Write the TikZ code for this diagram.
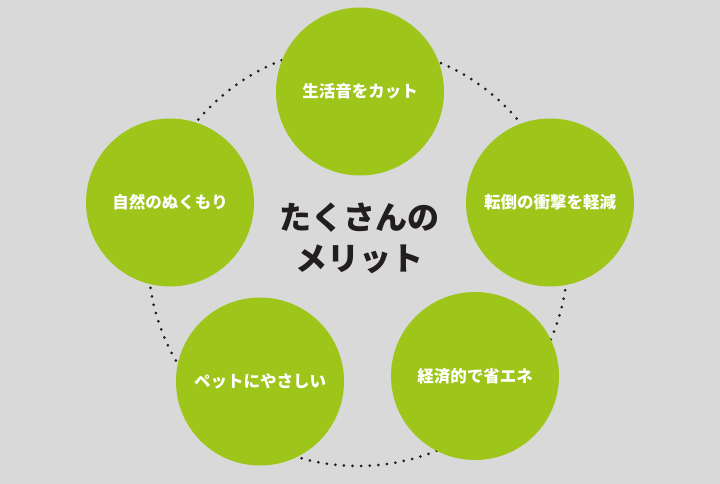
\documentclass[tikz,border=0pt]{standalone}
\usepackage{fontspec}
\newfontfamily\cjk{Noto Sans CJK JP}
\definecolor{BackClr}{RGB}{217,217,217}
\definecolor{GreenClr}{RGB}{158,197,26}
\definecolor{TextClr}{RGB}{35,30,30}

\begin{document}
\begin{tikzpicture}[x=1pt,y=-1pt,
  merit/.style={circle,fill=GreenClr,minimum size=168pt,inner sep=0pt,
    text=white,font=\cjk\bfseries\fontsize{16.5}{19}\selectfont},
  ring/.style={draw=TextClr,line width=3pt,line cap=round,
    dash pattern=on 0pt off 8.6pt}]
\fill[BackClr] (0,0) rectangle (720,484);
\useasboundingbox (0,0) rectangle (720,484);

\coordinate (O) at (358,256);
\draw[ring] (O) circle[radius=210];

\node[merit] (M1) at (360,91.5) {生活音をカット};
\node[merit] (M2) at (550,202.5) {転倒の衝撃を軽減};
\node[merit] (M3) at (475,376) {経済的で省エネ};
\node[merit] (M4) at (260,381.5) {ペットにやさしい};
\node[merit] (M5) at (170,202.5) {自然のぬくもり};

\node[align=center,text=TextClr,font=\cjk\bfseries\fontsize{32}{41}\selectfont]
  (T) at (359,238) {たくさんの\\メリット};

\end{tikzpicture}
\end{document}
